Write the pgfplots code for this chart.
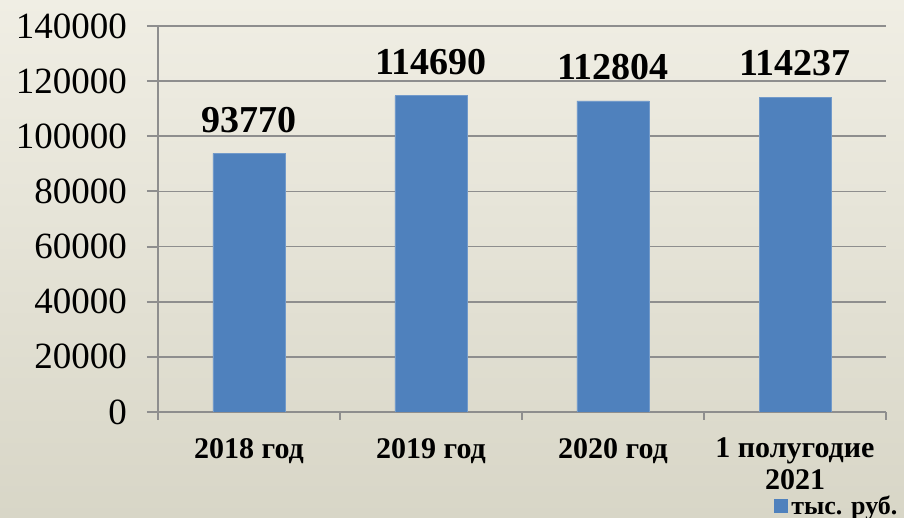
\documentclass[border=0pt]{standalone}
\usepackage{fontspec}
\setmainfont{Liberation Serif}
\usepackage{pgfplots}
\pgfplotsset{compat=1.18}
\definecolor{barblue}{HTML}{4F81BD}
\definecolor{gridgray}{HTML}{8E8E8E}
\definecolor{bgtop}{RGB}{240,238,228}
\definecolor{bgbot}{RGB}{216,214,199}
\begin{document}
\begin{tikzpicture}
\useasboundingbox (-79pt,-53pt) rectangle (373pt,206pt);
\shade[top color=bgtop, bottom color=bgbot] (-79pt,-53pt) rectangle (373pt,206pt);
\begin{axis}[
  at={(0,0)}, anchor=south west,
  scale only axis, width=364pt, height=193pt,
  ybar, bar width=36pt,
  xmin=-0.5, xmax=3.5, ymin=0, ymax=140000,
  ytick={0,20000,40000,60000,80000,100000,120000,140000},
  yticklabels={0,20000,40000,60000,80000,100000,120000,140000},
  scaled y ticks=false,
  yticklabel style={font=\fontsize{18.5pt}{20pt}\selectfont, xshift=-6.5pt},
  xtick={0,1,2,3},
  xticklabels={2018 год,2019 год,2020 год,{1 полугодие\\2021}},
  xticklabel style={font=\bfseries\fontsize{15pt}{16pt}\selectfont, align=center, yshift=-4pt},
  minor xtick={-0.5,0.5,1.5,2.5,3.5},
  major x tick style={draw=none},
  minor x tick style={draw=gridgray, line width=1pt},
  minor tick length=4pt,
  major tick length=5.5pt,
  tick align=outside,
  ytick style={draw=gridgray, line width=1pt},
  ymajorgrids, grid style={draw=gridgray, line width=0.8pt},
  axis x line*=bottom, axis y line*=left,
  axis line style={draw=gridgray, line width=0.8pt, -},
  tick label style={text=black},
  point meta=explicit symbolic,
  nodes near coords,
  nodes near coords style={font=\bfseries\fontsize{19pt}{20pt}\selectfont, text=black, yshift=7pt},
  legend style={at={(0.845,-0.205)}, anchor=north west, draw=none, fill=none,
    font=\bfseries\fontsize{13pt}{14pt}\selectfont, inner sep=0pt},
  legend image code/.code={\fill[barblue] (0pt,-3.25pt) rectangle (6.5pt,3.25pt);},
]
\addplot[fill=barblue, draw=barblue!80!white, bar shift=0pt] coordinates {(0,93770)[93770] (1,114690)[114690] (2,112804)[112804] (3,114237)[114237]};
\addlegendentry{тыс. руб.}
\end{axis}
\end{tikzpicture}
\end{document}
